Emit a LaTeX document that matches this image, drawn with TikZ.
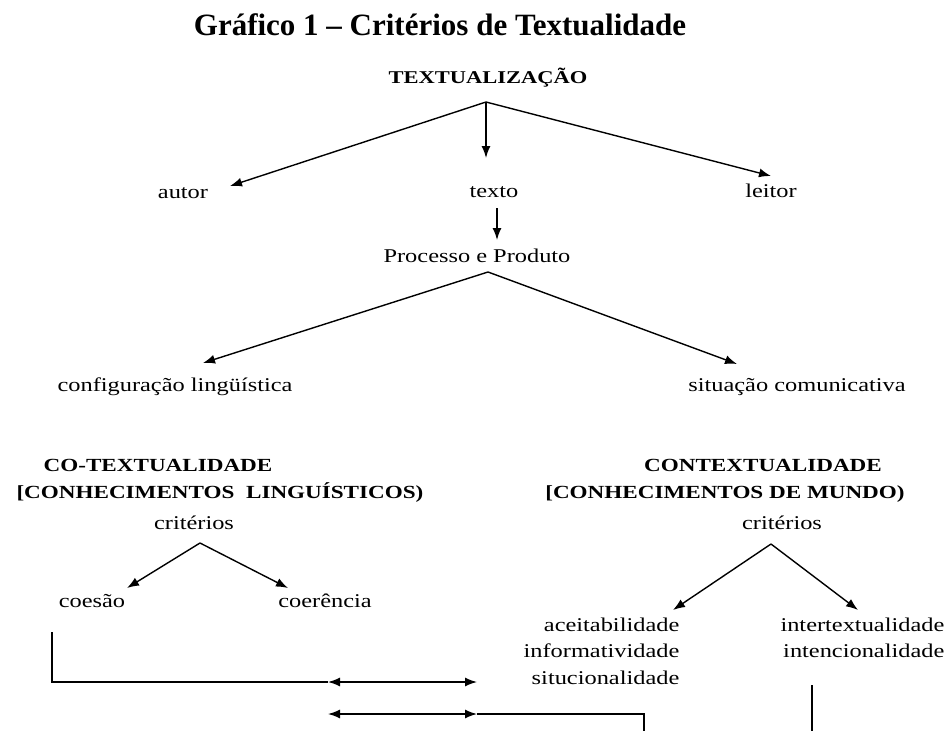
\documentclass[tikz,border=0pt]{standalone}
\usepackage{fontspec}
\setmainfont{Liberation Serif}[FakeStretch=1.25]
\newfontfamily\titlefont{Liberation Serif}
\usetikzlibrary{arrows.meta}
\tikzset{
  lbl/.style={inner sep=0pt, text height=11pt, text depth=2.5pt, font=\fontsize{19.5}{22}\selectfont},
  hd/.style={inner sep=0pt, text height=12.5pt, text depth=0.3pt, font=\fontsize{18.5}{22}\selectfont\bfseries},
  arr/.style={-{Latex[length=12pt,width=9pt]}},
  dbl/.style={{Latex[length=12pt,width=9pt]}-{Latex[length=12pt,width=9pt]}},
}

\begin{document}
\begin{tikzpicture}[x=1pt, y=-1pt, line width=1.4pt]
\useasboundingbox (0,0) rectangle (951,731);
\node[inner sep=0pt, font=\titlefont\bfseries\fontsize{31}{36}\selectfont] (title) at (440,25) {Gráfico 1 – Critérios de Textualidade};
\node[hd, font=\fontsize{18}{22}\selectfont\bfseries] (tx) at (488,77) {TEXTUALIZAÇÃO};
\node[lbl] (autor) at (183,194) {autor};
\node[lbl] (texto) at (494,193) {texto};
\node[lbl] (leitor) at (771,193) {leitor};
\node[lbl] (proc) at (477,258) {Processo e Produto};
\node[lbl] (config) at (175,387) {configuração lingüística};
\node[lbl] (sit) at (797,387) {situação comunicativa};
\node[hd] (cot) at (158,465) {CO-TEXTUALIDADE};
\node[hd] (cotk) at (220,492) {[CONHECIMENTOS\ \ LINGUÍSTICOS)};
\node[lbl] (crit1) at (194,525) {critérios};
\node[lbl] (coes) at (92,603) {coesão};
\node[lbl] (coer) at (325,603) {coerência};
\node[hd] (cont) at (763,465) {CONTEXTUALIDADE};
\node[hd] (contk) at (725,492) {[CONHECIMENTOS DE MUNDO)};
\node[lbl] (crit2) at (782,525) {critérios};
\node[lbl, anchor=east] (acei) at (680,627) {aceitabilidade};
\node[lbl, anchor=east] (info) at (680,653) {informatividade};
\node[lbl, anchor=east] (situ) at (680,680) {situcionalidade};
\node[lbl, anchor=east] (inter) at (945,627) {intertextualidade};
\node[lbl, anchor=east] (inten) at (945,653) {intencionalidade};
% branch points and arrow ends
\coordinate (a1) at (486,102);
\coordinate (autor-in) at (230,186);
\coordinate (texto-in) at (486,158);
\coordinate (leitor-in) at (771,176);
\coordinate (texto-out) at (497,208);
\coordinate (proc-in) at (497,240);
\coordinate (a2) at (488,272);
\coordinate (config-in) at (203,363);
\coordinate (sit-in) at (737,364);
\coordinate (a3) at (200,543);
\coordinate (coes-in) at (127,588);
\coordinate (coer-in) at (288,588);
\coordinate (a4) at (771,544);
\coordinate (acei-in) at (673,610);
\coordinate (inter-in) at (858,610);
\coordinate (coes-out) at (52,632);
\coordinate (b1l) at (328,682);
\coordinate (b1r) at (477,682);
\coordinate (b2l) at (328,714);
\coordinate (b2r) at (477,714);
\coordinate (b2e) at (644,731);
\coordinate (inten-out) at (812,685);
\coordinate (inten-e) at (812,731);
\draw[arr] (a1) -- (autor-in);
\draw[arr] (a1) -- (texto-in);
\draw[arr] (a1) -- (leitor-in);
\draw[arr] (texto-out) -- (proc-in);
\draw[arr] (a2) -- (config-in);
\draw[arr] (a2) -- (sit-in);
\draw[arr] (a3) -- (coes-in);
\draw[arr] (a3) -- (coer-in);
\draw[arr] (a4) -- (acei-in);
\draw[arr] (a4) -- (inter-in);
\draw (coes-out) |- (b1l);
\draw[dbl] (b1l) -- (b1r);
\draw[dbl] (b2l) -- (b2r);
\draw (b2r) -| (b2e);
\draw (inten-out) -- (inten-e);
\end{tikzpicture}
\end{document}
